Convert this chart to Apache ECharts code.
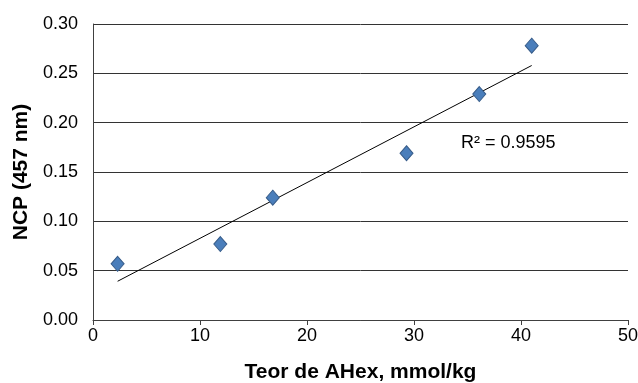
<!DOCTYPE html>
<html><head><meta charset="utf-8">
<script src="https://cdn.jsdelivr.net/npm/echarts@6/dist/echarts.min.js"></script>
<style>html,body{margin:0;padding:0;background:#fff}#c{width:638px;height:383px}</style>
</head><body><div id="c"></div>
<script>
var xValues = [2.3, 11.9, 16.8, 29.3, 36.1, 41.0];
var yValues = [0.057, 0.077, 0.124, 0.169, 0.229, 0.278];
var xTicks = [0, 10, 20, 30, 40, 50];
var yTicks = [0.00, 0.05, 0.10, 0.15, 0.20, 0.25, 0.30];
var r2Label = 'R² = 0.9595';

var n = xValues.length, mx = 0, my = 0;
for (var i = 0; i < n; i++) { mx += xValues[i]; my += yValues[i]; }
mx /= n; my /= n;
var sxy = 0, sxx = 0;
for (var i = 0; i < n; i++) { sxy += (xValues[i]-mx)*(yValues[i]-my); sxx += (xValues[i]-mx)*(xValues[i]-mx); }
var slope = sxy / sxx, icpt = my - slope * mx;
var xmin = Math.min.apply(null, xValues), xmax = Math.max.apply(null, xValues);
var trend = [[xmin, icpt + slope*xmin], [xmax, icpt + slope*xmax]];

var font = 'Liberation Sans, Arial, sans-serif';
var chart = echarts.init(document.getElementById('c'));
chart.setOption({
  animation: false,
  grid: {left: 93, right: 10, top: 24, bottom: 63, containLabel: false, outerBoundsMode: 'none'},
  xAxis: {
    type: 'value', min: xTicks[0], max: xTicks[xTicks.length-1], interval: 10,
    name: 'Teor de AHex, mmol/kg', nameLocation: 'middle', nameGap: 42,
    nameTextStyle: {fontFamily: font, fontSize: 21, fontWeight: 'bold', color: '#000'},
    axisLine: {show: true, lineStyle: {color: '#404040', width: 1}},
    axisTick: {show: true, length: 5, inside: false, lineStyle: {color: '#404040'}},
    axisLabel: {fontFamily: font, fontSize: 18, color: '#000', margin: 7},
    splitLine: {show: false}
  },
  yAxis: {
    type: 'value', min: yTicks[0], max: yTicks[yTicks.length-1], interval: 0.05,
    name: 'NCP (457 nm)', nameLocation: 'middle', nameGap: 60, nameRotate: 90,
    nameTextStyle: {fontFamily: font, fontSize: 21, fontWeight: 'bold', color: '#000'},
    axisLine: {show: true, lineStyle: {color: '#404040', width: 1}},
    axisTick: {show: false},
    axisLabel: {fontFamily: font, fontSize: 18, color: '#000', margin: 15,
      formatter: function (v) { return v.toFixed(2); }},
    splitLine: {show: true, lineStyle: {color: '#333', width: 1}}
  },
  graphic: [{
    type: 'text', left: 461, top: 134,
    style: {text: r2Label, font: '18px ' + font, fill: '#000'}
  }],
  series: [{
    type: 'line', data: trend, symbol: 'none', silent: true,
    lineStyle: {color: '#000', width: 1}, z: 2
  }, {
    type: 'scatter',
    data: xValues.map(function (x, i) { return [x, yValues[i]]; }),
    symbol: 'diamond', symbolSize: [13, 15],
    itemStyle: {color: '#4A7EBB', borderColor: '#385D8A', borderWidth: 1, opacity: 1},
    z: 3
  }]
});
</script></body></html>
